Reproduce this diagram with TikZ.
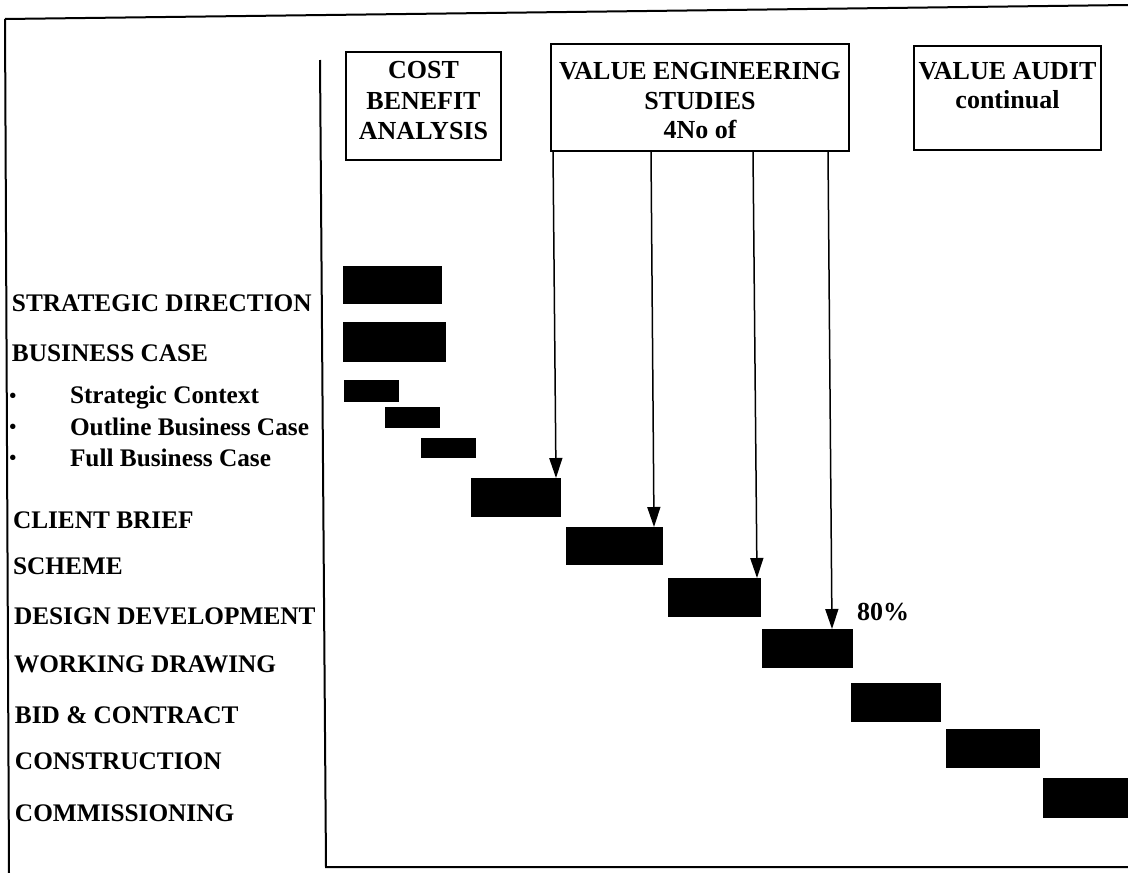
\documentclass[tikz,border=0pt]{standalone}
\usepackage{fontspec}
\setmainfont{Liberation Serif}
\usetikzlibrary{arrows.meta,fit}
\begin{document}
\begin{tikzpicture}[x=1pt,y=-1pt,
  txt/.style={inner sep=0pt, outer sep=0pt, font=\bfseries\fontsize{25.3}{30}\selectfont},
  btxt/.style={inner sep=0pt, outer sep=0pt, font=\bfseries\fontsize{26}{30}\selectfont},
  lbl/.style={txt, anchor=base west},
  ctr/.style={btxt, anchor=base},
  bul/.style={inner sep=0pt, outer sep=0pt, font=\bfseries\fontsize{20}{24}\selectfont, anchor=center},
  bar/.style={fill=black, draw=none, inner sep=0pt, outer sep=0pt},
  box/.style={draw=black, line width=1.4pt, inner sep=0pt, outer sep=0pt},
  frame/.style={line width=2pt},
  arr/.style={line width=1.5pt, -{Triangle[length=20pt,width=13pt]}}]
\useasboundingbox (0,0) rectangle (1128,873);

% frame
\draw[frame] (5,19) -- (1128,5);
\draw[frame] (5,19) -- (9,873);
\draw[frame] (320,60) -- (326,867) -- (1128,867);

% top boxes
\node[box, fit={(346,52) (501,160)}] (cba) {};
\node[ctr] (cba1) at (423.5,78) {COST};
\node[ctr] (cba2) at (423.5,109) {BENEFIT};
\node[ctr] (cba3) at (423.5,139) {ANALYSIS};

\node[box, fit={(551,44) (849,151)}] (ve) {};
\node[ctr] (ve1) at (700,79) {VALUE ENGINEERING};
\node[ctr] (ve2) at (700,109) {STUDIES};
\node[ctr] (ve3) at (700,138) {4No of};

\node[box, fit={(914,46) (1101,150)}] (va) {};
\node[ctr] (va1) at (1007.5,79) {VALUE AUDIT};
\node[ctr] (va2) at (1007.5,108) {continual};

% bars
\node[bar, fit={(343,266) (442,304)}] (sd) {};
\node[bar, fit={(343,322) (446,362)}] (bc) {};
\node[bar, fit={(344,380) (399,402)}] (sc) {};
\node[bar, fit={(385,407) (440,428)}] (ob) {};
\node[bar, fit={(421,438) (476,458)}] (fb) {};
\node[bar, fit={(471,478) (561,517)}] (cb) {};
\node[bar, fit={(566,527) (663,565)}] (sch) {};
\node[bar, fit={(668,578) (761,617)}] (dd) {};
\node[bar, fit={(762,629) (853,668)}] (wd) {};
\node[bar, fit={(851,683) (941,722)}] (bid) {};
\node[bar, fit={(946,729) (1040,768)}] (con) {};
\node[bar, fit={(1043,778) (1128,818)}] (com) {};

% labels
\node[lbl] (sdL) at (12,311) {STRATEGIC DIRECTION};
\node[lbl] (bcL) at (12,361) {BUSINESS CASE};
\node[bul] (b1) at (13,398) {•};
\node[bul] (b2) at (13,429) {•};
\node[bul] (b3) at (13,460) {•};
\node[lbl] (scL) at (70,403) {Strategic Context};
\node[lbl] (obL) at (70,435) {Outline Business Case};
\node[lbl] (fbL) at (70,466) {Full Business Case};
\node[lbl] (cbL) at (13,528) {CLIENT BRIEF};
\node[lbl] (schL) at (13,574) {SCHEME};
\node[lbl] (ddL) at (14,624) {DESIGN DEVELOPMENT};
\node[lbl] (wdL) at (14,672) {WORKING DRAWING};
\node[lbl] (bidL) at (15,723) {BID \& CONTRACT};
\node[lbl] (conL) at (15,769) {CONSTRUCTION};
\node[lbl] (comL) at (15,821) {COMMISSIONING};
\node[lbl, font=\bfseries\fontsize{26}{30}\selectfont] (pct) at (857,620) {80\%};

% arrows
\draw[arr] ([xshift=2pt]ve.south west) -- ([xshift=-5pt]cb.north east);
\draw[arr] ([xshift=100pt]ve.south west) -- ([xshift=-9pt]sch.north east);
\draw[arr] ([xshift=202pt]ve.south west) -- ([xshift=-4pt]dd.north east);
\draw[arr] ([xshift=277pt]ve.south west) -- ([xshift=-21pt]wd.north east);
\end{tikzpicture}
\end{document}
